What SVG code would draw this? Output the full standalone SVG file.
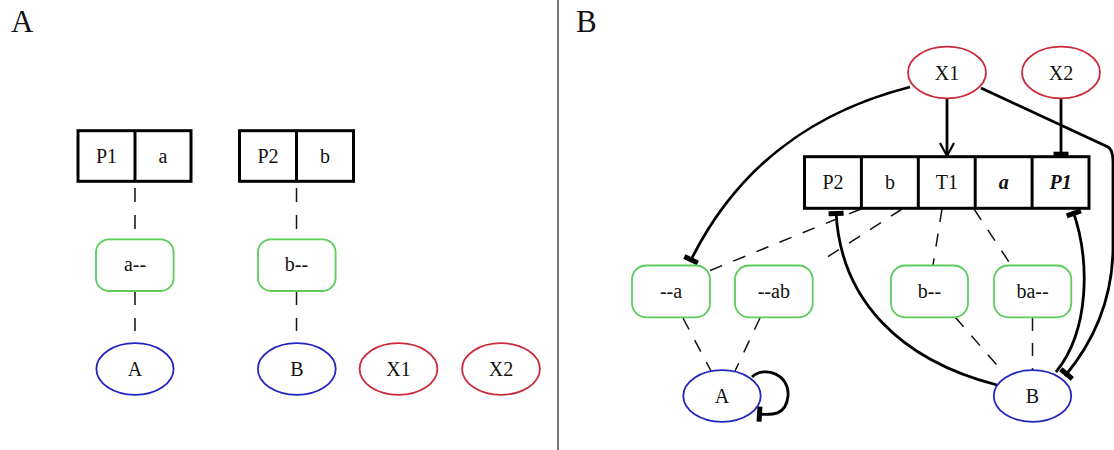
<svg xmlns="http://www.w3.org/2000/svg" width="1114" height="450" viewBox="0 0 1114 450">
<defs>
<marker id="tee" markerUnits="userSpaceOnUse" markerWidth="8" markerHeight="18" viewBox="-6 -9 8 18" refX="0" refY="0" orient="auto" overflow="visible"><rect x="-5" y="-7.5" width="5" height="15" fill="#000"/></marker>
<marker id="vee" markerUnits="userSpaceOnUse" markerWidth="16" markerHeight="18" viewBox="-14 -9 16 18" refX="0" refY="0" orient="auto" overflow="visible"><path d="M-13,-7 L0,0 L-13,7" fill="none" stroke="#000" stroke-width="2.2"/></marker>
</defs>
<style>
text{font-family:"Liberation Serif","DejaVu Serif",serif;font-size:20px;fill:#111;text-anchor:middle}
.big{font-size:31px;text-anchor:start}
.cell{fill:#fff;stroke:#000;stroke-width:3}
.div{stroke:#000;stroke-width:3}
.green{fill:#fff;stroke:#5ccc5c;stroke-width:1.8}
.blue{fill:#fff;stroke:#2424c0;stroke-width:1.8}
.red{fill:#fff;stroke:#cc2a3a;stroke-width:1.8}
.dash{fill:none;stroke:#111;stroke-width:1.5;stroke-dasharray:13,12}
.solid{fill:none;stroke:#000;stroke-width:2.8}
.bi{font-weight:bold;font-style:italic}
</style>
<rect width="1114" height="450" fill="#fff"/>
<line x1="558" y1="0" x2="558" y2="450" stroke="#555" stroke-width="1.6"/>
<text class="big" x="11" y="32">A</text>
<text class="big" x="576" y="32">B</text>

<g id="connectors-A">
<line class="dash" x1="135" y1="188" x2="135" y2="229" style="stroke-dasharray:14,13"/>
<line class="dash" x1="135" y1="291" x2="135" y2="331" style="stroke-dasharray:14,13"/>
<line class="dash" x1="296.5" y1="188" x2="296.5" y2="229" style="stroke-dasharray:14,13"/>
<line class="dash" x1="296.5" y1="291" x2="296.5" y2="331" style="stroke-dasharray:14,13"/>
</g>

<g id="A-P1a">
<rect class="cell" x="78" y="130.7" width="113" height="50.6"/>
<line class="div" x1="135" y1="130.7" x2="135" y2="181.3"/>
<text x="106.5" y="162.5">P1</text>
<text x="163" y="162.5">a</text>
</g>
<g id="A-P2b">
<rect class="cell" x="239.5" y="130.7" width="114" height="50.6"/>
<line class="div" x1="296.5" y1="130.7" x2="296.5" y2="181.3"/>
<text x="268" y="162.5">P2</text>
<text x="325" y="162.5">b</text>
</g>
<g id="A-a--"><rect class="green" x="96" y="239.3" width="77.6" height="51.7" rx="13"/><text x="135" y="271">a--</text></g>
<g id="A-b--"><rect class="green" x="258" y="239.3" width="77.6" height="51.7" rx="13"/><text x="296.5" y="271">b--</text></g>
<g id="A-A"><ellipse class="blue" cx="135" cy="369" rx="38.6" ry="25.8"/><text x="135" y="375.5">A</text></g>
<g id="A-B"><ellipse class="blue" cx="296.8" cy="369" rx="38.9" ry="25.8"/><text x="296.8" y="375.5">B</text></g>
<g id="A-X1"><ellipse class="red" cx="398.5" cy="369" rx="38.9" ry="25.8"/><text x="398.5" y="375.5">X1</text></g>
<g id="A-X2"><ellipse class="red" cx="501" cy="369" rx="38.9" ry="25.8"/><text x="501" y="375.5">X2</text></g>

<g id="connectors-B">
<line class="dash" x1="861" y1="209" x2="709" y2="271"/>
<line class="dash" x1="902" y1="209" x2="818" y2="263"/>
<line class="dash" x1="942" y1="209" x2="933" y2="265"/>
<line class="dash" x1="974" y1="209" x2="1011" y2="265"/>
<line class="dash" x1="683" y1="318" x2="711" y2="371"/>
<line class="dash" x1="760" y1="318" x2="735" y2="371"/>
<line class="dash" x1="955" y1="317" x2="1003" y2="372"/>
<line class="dash" x1="1032.5" y1="318" x2="1032.5" y2="370"/>
<line class="solid" x1="947" y1="98.5" x2="947" y2="156" marker-end="url(#vee)"/>
<line class="solid" x1="1061" y1="98.5" x2="1061" y2="156.7" marker-end="url(#tee)"/>
<path class="solid" d="M910,87 C820,110 740,160 690,262" marker-end="url(#tee)"/>
<path class="solid" d="M981,88 L1108,147 Q1113,150 1113,162 L1113,250 C1112,300 1095,340 1065,376" marker-end="url(#tee)"/>
<path class="solid" d="M1056,372 C1090,330 1090,260 1073,211" marker-end="url(#tee)"/>
<path class="solid" d="M997,385 C900,360 840,300 836,211" marker-end="url(#tee)"/>
<path class="solid" d="M752,377 C765,365 790,375 788,396 C786,416 772,415 757,414" marker-end="url(#tee)"/>
</g>

<g id="B-box">
<rect class="cell" x="804.5" y="156.7" width="284.5" height="51.6"/>
<line class="div" x1="861.4" y1="156.7" x2="861.4" y2="208.3"/>
<line class="div" x1="918.3" y1="156.7" x2="918.3" y2="208.3"/>
<line class="div" x1="975.2" y1="156.7" x2="975.2" y2="208.3"/>
<line class="div" x1="1032.1" y1="156.7" x2="1032.1" y2="208.3"/>
<text x="833" y="188.5">P2</text>
<text x="890" y="188.5">b</text>
<text x="946.8" y="188.5">T1</text>
<text class="bi" x="1003.7" y="188.5">a</text>
<text class="bi" x="1060.6" y="188.5">P1</text>
</g>
<g id="B-X1"><ellipse class="red" cx="947" cy="72.5" rx="39" ry="25.8"/><text x="947" y="79.5">X1</text></g>
<g id="B-X2"><ellipse class="red" cx="1061" cy="72.5" rx="39" ry="25.8"/><text x="1061" y="79.5">X2</text></g>
<g id="B--a"><rect class="green" x="632" y="265.5" width="78" height="51.8" rx="14"/><text x="671" y="297.5">--a</text></g>
<g id="B--ab"><rect class="green" x="735" y="265.5" width="77.7" height="51.8" rx="14"/><text x="773.8" y="297.5">--ab</text></g>
<g id="B-b--"><rect class="green" x="891" y="265.5" width="77" height="51.8" rx="14"/><text x="929.5" y="297.5">b--</text></g>
<g id="B-ba--"><rect class="green" x="994" y="265.5" width="77.3" height="51.8" rx="14"/><text x="1032.6" y="297.5">ba--</text></g>
<g id="B-A"><ellipse class="blue" cx="722" cy="396" rx="38.7" ry="25.8"/><text x="722" y="403">A</text></g>
<g id="B-B"><ellipse class="blue" cx="1032.5" cy="396" rx="38.7" ry="25.8"/><text x="1032.5" y="403">B</text></g>
</svg>
